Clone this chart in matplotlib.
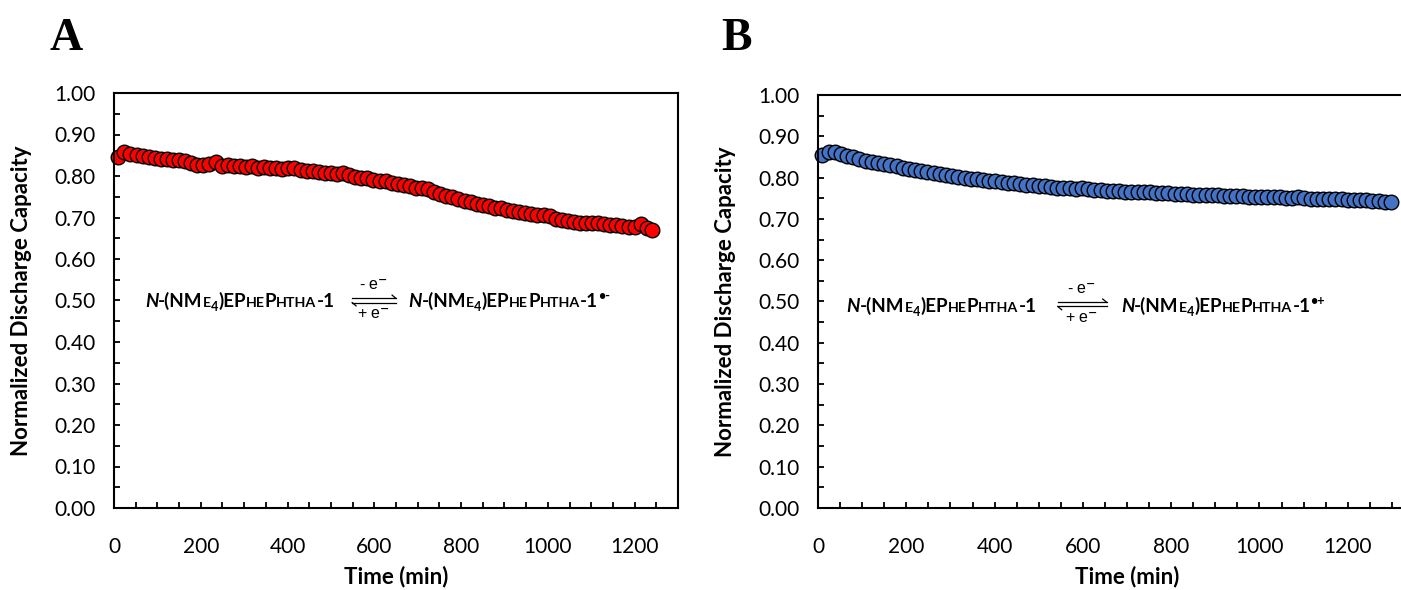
import numpy as np
import matplotlib
matplotlib.use("Agg")
import matplotlib.pyplot as plt
from matplotlib.ticker import MultipleLocator, FixedLocator, FormatStrFormatter
from matplotlib.transforms import offset_copy

# readings from the reference (time in min, normalized discharge capacity)
time_a = [10, 24, 38, 52, 66, 80, 94, 108, 122, 136, 150, 164, 178, 192, 206, 220,
          234, 248, 262, 276, 290, 304, 318, 332, 346, 360, 374, 388, 402, 416, 430,
          444, 458, 472, 486, 500, 514, 528, 542, 556, 570, 584, 598, 612, 626, 640,
          654, 668, 682, 696, 710, 724, 738, 752, 766, 780, 794, 808, 822, 836, 850,
          864, 878, 892, 906, 920, 934, 948, 962, 976, 990, 1004, 1018, 1032, 1046,
          1060, 1074, 1088, 1102, 1116, 1130, 1144, 1158, 1172, 1186, 1200, 1214,
          1228, 1240]
cap_a = [0.846, 0.857, 0.854, 0.850, 0.847, 0.845, 0.843, 0.842, 0.841, 0.839, 0.838,
         0.835, 0.831, 0.827, 0.827, 0.830, 0.833, 0.825, 0.826, 0.823, 0.824, 0.822,
         0.823, 0.820, 0.821, 0.819, 0.820, 0.818, 0.819, 0.820, 0.814, 0.812, 0.811,
         0.810, 0.808, 0.808, 0.806, 0.808, 0.803, 0.798, 0.796, 0.794, 0.791, 0.789,
         0.787, 0.784, 0.781, 0.778, 0.776, 0.772, 0.770, 0.768, 0.761, 0.756, 0.752,
         0.749, 0.745, 0.740, 0.737, 0.733, 0.730, 0.727, 0.724, 0.722, 0.718, 0.716,
         0.713, 0.710, 0.708, 0.706, 0.705, 0.703, 0.696, 0.694, 0.692, 0.690, 0.687,
         0.686, 0.687, 0.686, 0.684, 0.683, 0.681, 0.680, 0.678, 0.677, 0.684, 0.674,
         0.670]

time_b = [10, 24, 38, 52, 66, 80, 94, 108, 122, 136, 150, 164, 178, 192, 206, 220,
          234, 248, 262, 276, 290, 304, 318, 332, 346, 360, 374, 388, 402, 416, 430,
          444, 458, 472, 486, 500, 514, 528, 542, 556, 570, 584, 598, 612, 626, 640,
          654, 668, 682, 696, 710, 724, 738, 752, 766, 780, 794, 808, 822, 836, 850,
          864, 878, 892, 906, 920, 934, 948, 962, 976, 990, 1004, 1018, 1032, 1046,
          1060, 1074, 1088, 1102, 1116, 1130, 1144, 1158, 1172, 1186, 1200, 1214,
          1228, 1242, 1256, 1270, 1284, 1298]
cap_b = [0.854, 0.863, 0.861, 0.856, 0.852, 0.849, 0.845, 0.841, 0.838, 0.835, 0.832,
         0.830, 0.827, 0.824, 0.821, 0.819, 0.816, 0.813, 0.810, 0.808, 0.806, 0.804,
         0.801, 0.799, 0.797, 0.796, 0.794, 0.792, 0.791, 0.789, 0.788, 0.786, 0.784,
         0.783, 0.781, 0.780, 0.779, 0.777, 0.776, 0.775, 0.774, 0.773, 0.774, 0.772,
         0.770, 0.769, 0.768, 0.768, 0.767, 0.766, 0.766, 0.765, 0.764, 0.764, 0.763,
         0.762, 0.762, 0.761, 0.760, 0.760, 0.759, 0.758, 0.758, 0.757, 0.757, 0.756,
         0.756, 0.755, 0.755, 0.754, 0.754, 0.753, 0.753, 0.752, 0.752, 0.751, 0.751,
         0.753, 0.750, 0.749, 0.749, 0.748, 0.748, 0.747, 0.747, 0.746, 0.746, 0.745,
         0.745, 0.744, 0.743, 0.742, 0.742]

x_ticks = [0, 200, 400, 600, 800, 1000, 1200]

tick_font = "Lato"
chem_font = "Lato"

fig = plt.figure(figsize=(14.01, 5.90), dpi=100)
ax_a = fig.add_axes([114 / 1401, 1 - 508 / 590, 564 / 1401, 415 / 590])
# panel B is cut off on the right in the reference
ax_b = fig.add_axes([818 / 1401, 1 - 508 / 590, 618 / 1401, 413 / 590])


def style_axes(ax, xmax):
    ax.set_xlim(0, xmax)
    ax.set_ylim(0, 1.0)
    ax.xaxis.set_major_locator(FixedLocator(x_ticks))
    ax.xaxis.set_minor_locator(MultipleLocator(50))
    ax.yaxis.set_major_locator(MultipleLocator(0.1))
    ax.yaxis.set_minor_locator(MultipleLocator(0.05))
    ax.yaxis.set_major_formatter(FormatStrFormatter('%.2f'))
    ax.tick_params(which='both', direction='in', length=4, width=1.3)
    ax.tick_params(axis='y', which='major', labelsize=15, pad=13)
    ax.tick_params(axis='x', which='major', labelsize=15, pad=21)
    for lab in ax.get_xticklabels() + ax.get_yticklabels():
        lab.set_fontfamily(tick_font)
    for s in ax.spines.values():
        s.set_linewidth(1.5)
    ax.set_xlabel('Time (min)', fontsize=16, fontweight='bold', family=tick_font, labelpad=6)
    ax.set_ylabel('Normalized Discharge Capacity', fontsize=16, fontweight='bold',
                  family=tick_font, labelpad=16)


style_axes(ax_a, 1300)
style_axes(ax_b, 1400)

ax_a.plot(time_a, cap_a, 'o', ms=10.5, mfc='#FF0000', mec='black', mew=1.0, clip_on=False)
ax_b.plot(time_b, cap_b, 'o', ms=10.5, mfc='#4472C4', mec='black', mew=1.0, clip_on=False)

renderer = fig.canvas.get_renderer()


def chem_label(ax, x, y, charge):
    # pieces: (text, size, style, vertical offset in px)
    big, small = 13.5, 10.3
    parts = [('N', big, 'italic', 0), ('-(NM', big, 'normal', 0), ('E', small, 'normal', 0),
             ('4', 9, 'normal', -4), (')EP', big, 'normal', 0), ('HE', small, 'normal', 0),
             ('P', big, 'normal', 0), ('HTHA', small, 'normal', 0), ('-1', big, 'normal', 0)]
    if charge:
        parts.append(('\u2022' + charge, 9, 'normal', 7))
    dx = 0.0
    for txt, size, style, dy in parts:
        tr = offset_copy(ax.transData, fig=fig, x=dx, y=dy, units='dots')
        t = ax.text(x, y, txt, transform=tr, fontsize=size, fontweight='bold',
                    fontstyle=style, family=chem_font, va='baseline', ha='left')
        dx += t.get_window_extent(renderer).width


def equilibrium(ax, x0, x1, y, label_x):
    # two harpoons, drawn as lines with one barb each
    gap, barb_x, barb_y = 0.005, 9, 0.008
    ax.plot([x0, x1], [y + gap, y + gap], color='black', lw=0.9)
    ax.plot([x1, x1 - barb_x], [y + gap, y + gap + barb_y], color='black', lw=0.9)
    ax.plot([x0, x1], [y - gap, y - gap], color='black', lw=0.9)
    ax.plot([x0, x0 + barb_x], [y - gap, y - gap - barb_y], color='black', lw=0.9)
    ax.text(label_x, y + 0.036, '- e$^{\\mathbf{-}}$', fontsize=11.5, family='Liberation Sans',
            ha='center', va='center')
    ax.text(label_x, y - 0.034, '+ e$^{\\mathbf{-}}$', fontsize=11.5, family='Liberation Sans',
            ha='center', va='center')


chem_label(ax_a, 71, 0.484, '')
equilibrium(ax_a, 549, 650, 0.50, 598)
chem_label(ax_a, 678, 0.484, '-')

chem_label(ax_b, 65, 0.474, '')
equilibrium(ax_b, 543, 654, 0.493, 598)
chem_label(ax_b, 686, 0.474, '+')

fig.text(49 / 1401, 1 - 50 / 590, 'A', fontsize=33, fontweight='bold', family='Liberation Serif')
fig.text(721 / 1401, 1 - 50 / 590, 'B', fontsize=33, fontweight='bold', family='Liberation Serif')

fig.savefig('out.png', dpi=100)
